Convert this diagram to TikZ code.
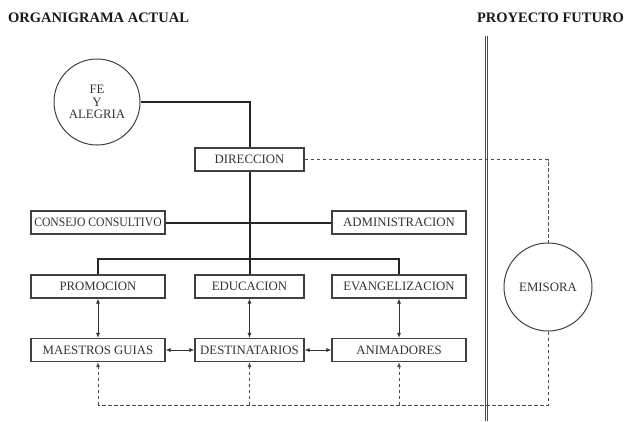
\documentclass[tikz,border=0pt]{standalone}
\usepackage{fontspec}
\setmainfont{Liberation Serif}
\usetikzlibrary{arrows.meta}
\begin{document}
\begin{tikzpicture}[x=1pt,y=-1pt,
  box/.style={draw=black!75,line width=1.1pt,minimum width=134pt,minimum height=23pt,inner sep=0pt,font=\fontsize{12.8}{13}\selectfont,text=black!80},
  sbox/.style={box,minimum width=109pt},
  circ/.style={draw=black!75,line width=1pt,circle,inner sep=0pt,font=\fontsize{12.8}{12.5}\selectfont,text=black!80,align=center},
  title/.style={font=\fontsize{14.5}{15}\selectfont\bfseries,text=black!90,inner sep=0pt},
  thick line/.style={line width=2pt,black!85},
  link/.style={line width=0.9pt,black!80,{Latex[length=5pt,width=4pt]}-{Latex[length=5pt,width=4pt]}},
  dlink/.style={line width=1pt,black!70,dash pattern=on 3.5pt off 2.5pt},
  darrow/.style={dlink,-{Latex[length=5pt,width=4pt]}}]
\useasboundingbox (0,0) rectangle (626,421);
\node[title,anchor=west] (t1) at (8,18) {ORGANIGRAMA ACTUAL};
\node[title,anchor=east] (t2) at (624,18) {PROYECTO FUTURO};
\draw[double=white,double distance=1.4pt,line width=0.9pt,black!70] (486.5,36) coordinate (sepT) -- (486.5,421) coordinate (sepB);

\node[circ,minimum size=86pt] (fe) at (97,102) {FE\\Y\\ALEGRIA};
\node[sbox] (dir) at (249.5,159.5) {DIRECCION};
\node[box] (con) at (98,222.5) {\scalebox{0.91}[1]{CONSEJO CONSULTIVO}};
\node[box] (adm) at (399,222.5) {ADMINISTRACION};
\node[box] (pro) at (98,286.5) {PROMOCION};
\node[sbox] (edu) at (249.5,286.5) {EDUCACION};
\node[box] (eva) at (399,286.5) {EVANGELIZACION};
\node[box] (mae) at (98,350) {MAESTROS GUIAS};
\node[sbox] (des) at (249.5,350) {DESTINATARIOS};
\node[box] (ani) at (399,350) {ANIMADORES};
\node[circ,minimum size=88pt] (emi) at (548,287) {EMISORA};

% solid hierarchy
\draw[thick line] (fe.east) -- (fe.east -| dir.north) -- (dir.north);
\draw[thick line] (dir.south) -- (edu.north);
\draw[thick line] (con.east) -- (adm.west);
\coordinate (hl) at (249.5,259);
\draw[thick line] (pro.north) -- (pro.north |- hl) -- (eva.north |- hl) -- (eva.north);

% double arrows
\draw[link] (pro.south) -- (mae.north);
\draw[link] (edu.south) -- (des.north);
\draw[link] (eva.south) -- (ani.north);
\draw[link] (mae.east) -- (des.west);
\draw[link] (des.east) -- (ani.west);

% dashed
\coordinate (bot) at (548,405);
\draw[dlink] (dir.east) -- (dir.east -| emi.north) -- (emi.north);
\draw[dlink] (emi.south) -- (bot) -- (bot -| mae.south);
\draw[darrow] (bot -| mae.south) -- (mae.south);
\draw[darrow] (bot -| des.south) -- (des.south);
\draw[darrow] (bot -| ani.south) -- (ani.south);
\end{tikzpicture}
\end{document}
